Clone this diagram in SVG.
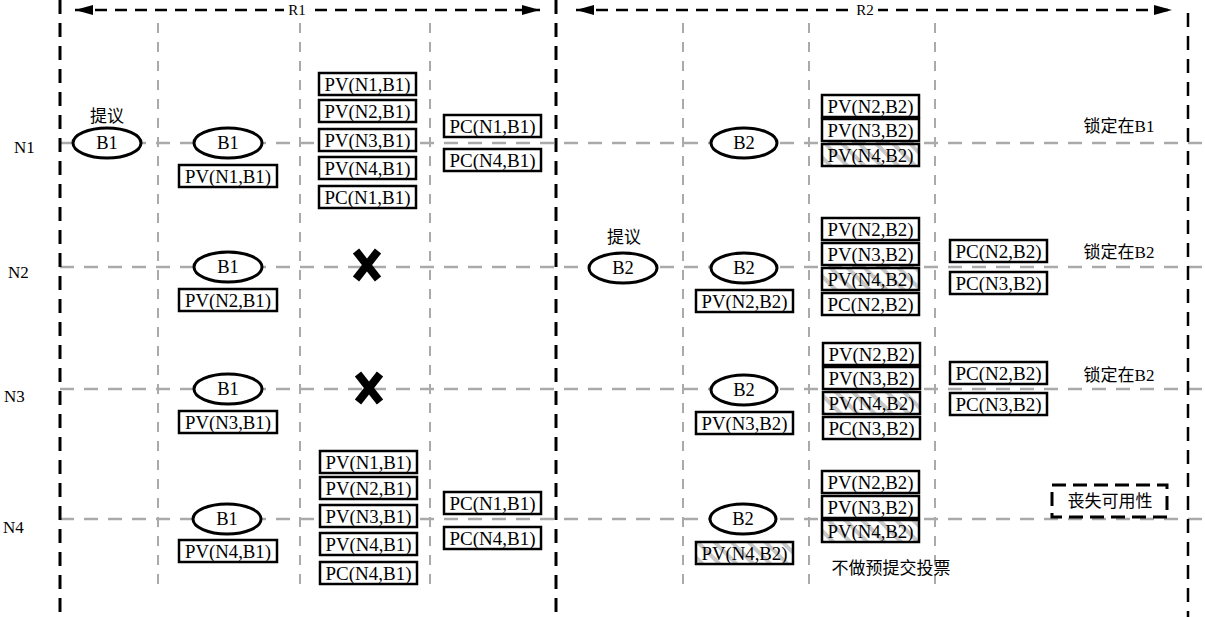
<svg xmlns="http://www.w3.org/2000/svg" width="1205" height="617" viewBox="0 0 1205 617">
<style>
.bl{stroke:#000;stroke-width:3;stroke-dasharray:14 9;fill:none}
.gv{stroke:#aaa;stroke-width:2;stroke-dasharray:10 9;fill:none}
.gh{stroke:#aaa;stroke-width:2.5;stroke-dasharray:14 10;fill:none}
.ar{stroke:#000;stroke-width:2.5;stroke-dasharray:12 8;fill:none}
.box{fill:#fff;stroke:#000;stroke-width:2.5}
.hb{fill:url(#hatch);stroke:#000;stroke-width:2.5}
.ell{fill:#fff;stroke:#000;stroke-width:3}
text{fill:#000}
.t{font-family:"Liberation Serif",serif;font-size:18.5px;text-anchor:middle}
.lb{font-family:"Liberation Serif",serif;font-size:17px}
.cn{font-family:"Liberation Serif","Noto Sans CJK SC",serif;font-size:17px;text-anchor:middle}
.xm{stroke:#000;stroke-width:8}
</style>
<defs>
<marker id="ah" viewBox="0 0 18 10" refX="18" refY="5" markerWidth="18" markerHeight="10" markerUnits="userSpaceOnUse" orient="auto-start-reverse">
<path d="M0,0 L18,5 L0,10 Z" fill="#000"/>
</marker>
<pattern id="hatch" patternUnits="userSpaceOnUse" width="12" height="12" patternTransform="rotate(-45)">
<rect width="12" height="12" fill="#fff"/>
<rect x="0" y="0" width="4" height="12" fill="#c8c8c8"/>
</pattern>
</defs>
<rect width="1205" height="617" fill="#fff"/>

<g id="connectors">
<line class="gh" x1="60" y1="143" x2="1205" y2="143"/>
<line class="gh" x1="60" y1="267" x2="1205" y2="267"/>
<line class="gh" x1="60" y1="389" x2="1205" y2="389"/>
<line class="gh" x1="60" y1="519" x2="1205" y2="519"/>
<line class="gv" x1="158" y1="23" x2="158" y2="592"/>
<line class="gv" x1="300" y1="23" x2="300" y2="592"/>
<line class="gv" x1="430" y1="23" x2="430" y2="592"/>
<line class="gv" x1="683" y1="23" x2="683" y2="592"/>
<line class="gv" x1="809" y1="23" x2="809" y2="592"/>
<line class="gv" x1="935" y1="23" x2="935" y2="592"/>
<line class="bl" x1="60" y1="0" x2="60" y2="617"/>
<line class="bl" x1="556" y1="0" x2="556" y2="617"/>
<line class="bl" x1="1188" y1="13" x2="1188" y2="617" style="stroke-width:2.5"/>
<line class="ar" x1="75" y1="10" x2="540" y2="10" marker-start="url(#ah)" marker-end="url(#ah)"/>
<line class="ar" x1="576" y1="10" x2="1172" y2="10" marker-start="url(#ah)" marker-end="url(#ah)"/>
</g>

<g id="round-labels">
<rect x="284" y="0" width="26" height="20" fill="#fff"/>
<text x="297" y="15" class="t" style="font-size:15px">R1</text>
<rect x="852" y="0" width="26" height="20" fill="#fff"/>
<text x="865" y="15" class="t" style="font-size:15px">R2</text>
</g>

<g id="node-labels">
<text x="14" y="153" class="lb">N1</text>
<text x="8" y="278" class="lb">N2</text>
<text x="4" y="402" class="lb">N3</text>
<text x="3" y="533" class="lb">N4</text>
</g>

<!-- R1 -->
<g id="r1-propose">
<text x="107" y="122" class="cn">提议</text>
<ellipse class="ell" cx="107" cy="143" rx="34" ry="15"/>
<text x="107" y="149" class="t">B1</text>
</g>

<g id="r1-n1-col2">
<ellipse class="ell" cx="228" cy="143" rx="34" ry="15"/>
<text x="228" y="149" class="t">B1</text>
<rect class="box" x="179" y="165" width="98" height="22"/>
<text x="228" y="183" class="t" textLength="86" lengthAdjust="spacingAndGlyphs">PV(N1,B1)</text>
</g>
<g id="r1-n2-col2">
<ellipse class="ell" cx="228" cy="267" rx="34" ry="15"/>
<text x="228" y="273" class="t">B1</text>
<rect class="box" x="179" y="289" width="98" height="22"/>
<text x="228" y="307" class="t" textLength="86" lengthAdjust="spacingAndGlyphs">PV(N2,B1)</text>
</g>
<g id="r1-n3-col2">
<ellipse class="ell" cx="228" cy="389" rx="34" ry="15"/>
<text x="228" y="395" class="t">B1</text>
<rect class="box" x="179" y="411" width="98" height="22"/>
<text x="228" y="429" class="t" textLength="86" lengthAdjust="spacingAndGlyphs">PV(N3,B1)</text>
</g>
<g id="r1-n4-col2">
<ellipse class="ell" cx="227" cy="519" rx="34" ry="15"/>
<text x="227" y="525" class="t">B1</text>
<rect class="box" x="179" y="540" width="98" height="22"/>
<text x="228" y="558" class="t" textLength="86" lengthAdjust="spacingAndGlyphs">PV(N4,B1)</text>
</g>

<g id="r1-n1-col3">
<rect class="box" x="319" y="73" width="97" height="22"/><text x="367.5" y="91" class="t" textLength="86" lengthAdjust="spacingAndGlyphs">PV(N1,B1)</text>
<rect class="box" x="319" y="100" width="97" height="22"/><text x="367.5" y="118" class="t" textLength="86" lengthAdjust="spacingAndGlyphs">PV(N2,B1)</text>
<rect class="box" x="319" y="129" width="97" height="22"/><text x="367.5" y="147" class="t" textLength="86" lengthAdjust="spacingAndGlyphs">PV(N3,B1)</text>
<rect class="box" x="319" y="157" width="97" height="22"/><text x="367.5" y="175" class="t" textLength="86" lengthAdjust="spacingAndGlyphs">PV(N4,B1)</text>
<rect class="box" x="319" y="186" width="97" height="22"/><text x="367.5" y="204" class="t" textLength="86" lengthAdjust="spacingAndGlyphs">PC(N1,B1)</text>
</g>
<g id="r1-n2-fail">
<line class="xm" x1="356" y1="251" x2="378" y2="279"/>
<line class="xm" x1="378" y1="251" x2="356" y2="279"/>
</g>
<g id="r1-n3-fail">
<line class="xm" x1="358" y1="374" x2="380" y2="402"/>
<line class="xm" x1="380" y1="374" x2="358" y2="402"/>
</g>
<g id="r1-n4-col3">
<rect class="box" x="320" y="451" width="97" height="22"/><text x="368.5" y="469" class="t" textLength="86" lengthAdjust="spacingAndGlyphs">PV(N1,B1)</text>
<rect class="box" x="320" y="477" width="97" height="22"/><text x="368.5" y="495" class="t" textLength="86" lengthAdjust="spacingAndGlyphs">PV(N2,B1)</text>
<rect class="box" x="320" y="505" width="97" height="22"/><text x="368.5" y="523" class="t" textLength="86" lengthAdjust="spacingAndGlyphs">PV(N3,B1)</text>
<rect class="box" x="320" y="533" width="97" height="22"/><text x="368.5" y="551" class="t" textLength="86" lengthAdjust="spacingAndGlyphs">PV(N4,B1)</text>
<rect class="box" x="320" y="562" width="97" height="22"/><text x="368.5" y="580" class="t" textLength="86" lengthAdjust="spacingAndGlyphs">PC(N4,B1)</text>
</g>
<g id="r1-n1-col4">
<rect class="box" x="444" y="115" width="97" height="22"/><text x="492.5" y="133" class="t" textLength="86" lengthAdjust="spacingAndGlyphs">PC(N1,B1)</text>
<rect class="box" x="444" y="149" width="97" height="22"/><text x="492.5" y="167" class="t" textLength="86" lengthAdjust="spacingAndGlyphs">PC(N4,B1)</text>
</g>
<g id="r1-n4-col4">
<rect class="box" x="444" y="492" width="97" height="22"/><text x="492.5" y="510" class="t" textLength="86" lengthAdjust="spacingAndGlyphs">PC(N1,B1)</text>
<rect class="box" x="444" y="527" width="97" height="22"/><text x="492.5" y="545" class="t" textLength="86" lengthAdjust="spacingAndGlyphs">PC(N4,B1)</text>
</g>

<!-- R2 -->
<g id="r2-propose">
<text x="624" y="243" class="cn">提议</text>
<ellipse class="ell" cx="623" cy="268" rx="34" ry="15"/>
<text x="623" y="274" class="t">B2</text>
</g>
<g id="r2-n1-col2">
<ellipse class="ell" cx="744" cy="143" rx="33" ry="15"/>
<text x="744" y="149" class="t">B2</text>
</g>
<g id="r2-n2-col2">
<ellipse class="ell" cx="744" cy="268" rx="33" ry="15"/>
<text x="744" y="274" class="t">B2</text>
<rect class="box" x="696" y="290" width="97" height="22"/><text x="744.5" y="308" class="t" textLength="86" lengthAdjust="spacingAndGlyphs">PV(N2,B2)</text>
</g>
<g id="r2-n3-col2">
<ellipse class="ell" cx="744" cy="390" rx="33" ry="15"/>
<text x="744" y="396" class="t">B2</text>
<rect class="box" x="696" y="412" width="97" height="22"/><text x="744.5" y="430" class="t" textLength="86" lengthAdjust="spacingAndGlyphs">PV(N3,B2)</text>
</g>
<g id="r2-n4-col2">
<ellipse class="ell" cx="743" cy="519" rx="33" ry="15"/>
<text x="743" y="525" class="t">B2</text>
<rect class="hb" x="696" y="542" width="97" height="22"/><text x="744.5" y="560" class="t" textLength="86" lengthAdjust="spacingAndGlyphs">PV(N4,B2)</text>
</g>

<g id="r2-n1-col3">
<rect class="box" x="822" y="95" width="97" height="22"/><text x="870.5" y="113" class="t" textLength="86" lengthAdjust="spacingAndGlyphs">PV(N2,B2)</text>
<rect class="box" x="822" y="119" width="97" height="22"/><text x="870.5" y="137" class="t" textLength="86" lengthAdjust="spacingAndGlyphs">PV(N3,B2)</text>
<rect class="hb" x="822" y="144" width="97" height="22"/><text x="870.5" y="162" class="t" textLength="86" lengthAdjust="spacingAndGlyphs">PV(N4,B2)</text>
</g>
<g id="r2-n2-col3">
<rect class="box" x="822" y="218" width="97" height="22"/><text x="870.5" y="236" class="t" textLength="86" lengthAdjust="spacingAndGlyphs">PV(N2,B2)</text>
<rect class="box" x="822" y="243" width="97" height="22"/><text x="870.5" y="261" class="t" textLength="86" lengthAdjust="spacingAndGlyphs">PV(N3,B2)</text>
<rect class="hb" x="822" y="268" width="97" height="22"/><text x="870.5" y="286" class="t" textLength="86" lengthAdjust="spacingAndGlyphs">PV(N4,B2)</text>
<rect class="box" x="822" y="293" width="97" height="22"/><text x="870.5" y="311" class="t" textLength="86" lengthAdjust="spacingAndGlyphs">PC(N2,B2)</text>
</g>
<g id="r2-n3-col3">
<rect class="box" x="823" y="343" width="97" height="22"/><text x="871.5" y="361" class="t" textLength="86" lengthAdjust="spacingAndGlyphs">PV(N2,B2)</text>
<rect class="box" x="823" y="367" width="97" height="22"/><text x="871.5" y="385" class="t" textLength="86" lengthAdjust="spacingAndGlyphs">PV(N3,B2)</text>
<rect class="hb" x="823" y="392" width="97" height="22"/><text x="871.5" y="410" class="t" textLength="86" lengthAdjust="spacingAndGlyphs">PV(N4,B2)</text>
<rect class="box" x="823" y="417" width="97" height="22"/><text x="871.5" y="435" class="t" textLength="86" lengthAdjust="spacingAndGlyphs">PC(N3,B2)</text>
</g>
<g id="r2-n4-col3">
<rect class="box" x="822" y="471" width="97" height="22"/><text x="870.5" y="489" class="t" textLength="86" lengthAdjust="spacingAndGlyphs">PV(N2,B2)</text>
<rect class="box" x="822" y="496" width="97" height="22"/><text x="870.5" y="514" class="t" textLength="86" lengthAdjust="spacingAndGlyphs">PV(N3,B2)</text>
<rect class="hb" x="822" y="520" width="97" height="22"/><text x="870.5" y="538" class="t" textLength="86" lengthAdjust="spacingAndGlyphs">PV(N4,B2)</text>
<text x="891" y="574" class="cn">不做预提交投票</text>
</g>
<g id="r2-n2-col4">
<rect class="box" x="950" y="240" width="97" height="22"/><text x="998.5" y="258" class="t" textLength="86" lengthAdjust="spacingAndGlyphs">PC(N2,B2)</text>
<rect class="box" x="950" y="272" width="97" height="22"/><text x="998.5" y="290" class="t" textLength="86" lengthAdjust="spacingAndGlyphs">PC(N3,B2)</text>
</g>
<g id="r2-n3-col4">
<rect class="box" x="950" y="362" width="97" height="22"/><text x="998.5" y="380" class="t" textLength="86" lengthAdjust="spacingAndGlyphs">PC(N2,B2)</text>
<rect class="box" x="950" y="393" width="97" height="22"/><text x="998.5" y="411" class="t" textLength="86" lengthAdjust="spacingAndGlyphs">PC(N3,B2)</text>
</g>

<g id="status-n1"><text x="1119" y="132" class="cn">锁定在B1</text></g>
<g id="status-n2"><text x="1119" y="258" class="cn">锁定在B2</text></g>
<g id="status-n3"><text x="1119" y="381" class="cn">锁定在B2</text></g>
<g id="status-n4">
<rect x="1052" y="485" width="115" height="32" fill="#fff" stroke="#000" stroke-width="3" stroke-dasharray="14 7"/>
<text x="1110" y="507" class="cn">丧失可用性</text>
</g>
</svg>
